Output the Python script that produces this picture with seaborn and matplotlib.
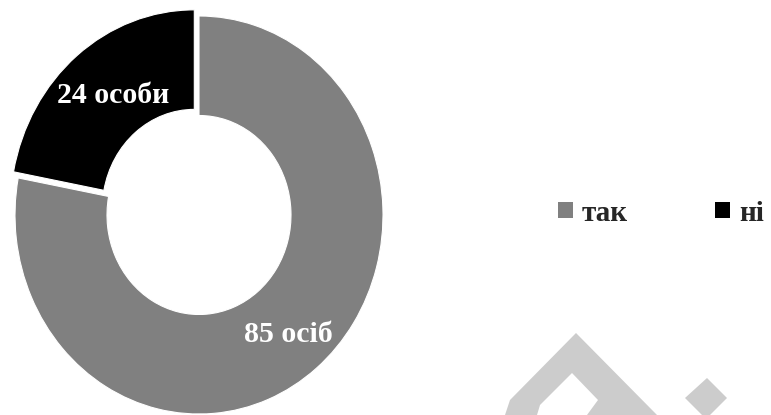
import matplotlib
matplotlib.use("Agg")
import matplotlib.pyplot as plt
import matplotlib.transforms as mtransforms
from matplotlib.patches import Patch, Polygon
import seaborn as sns

categories = ["так", "ні"]
counts = [85, 24]
value_labels = ["85 осіб", "24 особи"]

sns.set_theme(style="white")
plt.rcParams['font.family'] = ['Liberation Serif', 'DejaVu Serif']
colors = sns.color_palette(["#808080", "#000000"])

W, H = 771, 415
fig = plt.figure(figsize=(W / 100, H / 100), dpi=100)

# donut is slightly taller than wide in the reference
cx, cy = 199, H - 215
rx, ry = 184, 199
lim = 1.1
ax = fig.add_axes([(cx - lim * rx) / W, (cy - lim * ry) / H,
                   2 * lim * rx / W, 2 * lim * ry / H])

wedges, _, autotexts = ax.pie(
    counts, colors=colors, startangle=90, counterclock=False,
    explode=[0, 0.04], autopct="%1.0f", pctdistance=0.76,
    wedgeprops=dict(width=0.5, edgecolor="white", linewidth=0.8),
)
# small nudges (in pixels) so the labels sit where the original has them
nudges = [(0, -3), (8, -3)]
for t, lab, (dx, dy) in zip(autotexts, value_labels, nudges):
    t.set_text(lab)
    t.set_color("white")
    t.set_fontsize(21.5)
    t.set_fontweight("bold")
    t.set_transform(mtransforms.offset_copy(t.get_transform(), fig=fig,
                                            x=dx, y=dy, units="dots"))

ax.set_aspect("auto")
ax.set_xlim(-lim, lim)
ax.set_ylim(-lim, lim)
ax.axis("off")

handles = [Patch(facecolor=c, edgecolor="none") for c in colors]
fig.legend(handles, categories, loc="center", bbox_to_anchor=(661 / W, 1 - 213 / H),
           ncol=2, frameon=False, handlelength=0.5, handleheight=0.5,
           handletextpad=0.3, columnspacing=3.0,
           prop=dict(size=21, weight="bold"))

# faint watermark in the lower right corner
watermark = [
    [(505, 415), (510, 400), (576, 333), (657, 415), (587, 415),
     (598, 400), (572, 373), (540, 405), (537, 415)],
    [(707, 378), (727, 398), (710, 415), (702, 415), (685, 398)],
]
for shape in watermark:
    pts = [(x / W, 1 - y / H) for x, y in shape]
    fig.patches.append(Polygon(pts, closed=True, transform=fig.transFigure,
                               facecolor="#cccccc", edgecolor="none"))

fig.savefig("out.png", dpi=100)
